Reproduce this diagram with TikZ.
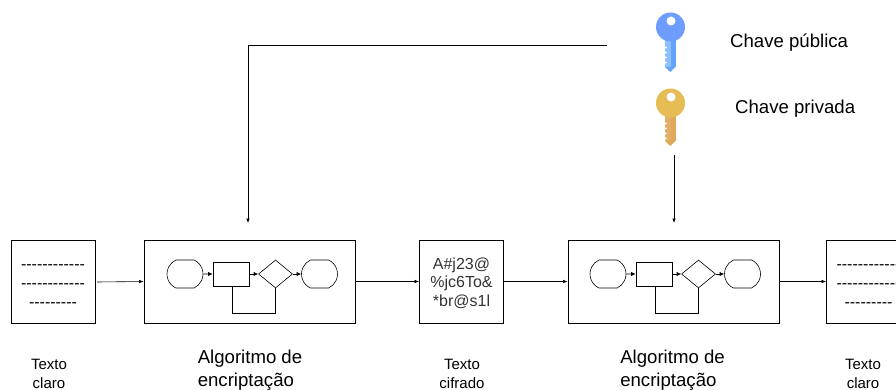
\documentclass[tikz,border=0pt]{standalone}
\usepackage{fontspec}
\setmainfont{Liberation Sans}
\newfontfamily\dashfont{Liberation Sans}
\usetikzlibrary{arrows.meta,shapes.geometric,shapes.misc}

\definecolor{keyblue}{HTML}{6E9DFF}
\definecolor{keyblueA}{HTML}{8CC0FF}
\definecolor{keyblueB}{HTML}{62A4FA}
\definecolor{keygold}{HTML}{E6BC55}
\definecolor{keygoldA}{HTML}{E2B066}
\definecolor{keygoldB}{HTML}{DFA85A}

\tikzset{
  box/.style={draw, line width=0.8pt, minimum height=83, inner sep=0},
  term/.style={draw, line width=0.6pt, rounded rectangle, rounded rectangle arc length=130, minimum width=36, minimum height=28, inner sep=0},
  proc/.style={draw, line width=0.6pt, minimum width=36, minimum height=24, inner sep=0},
  deci/.style={draw, line width=0.6pt, diamond, aspect=1.2, minimum width=34, minimum height=28, inner sep=0},
  flow/.style={line width=0.6pt, -{Latex[length=4.5,width=3.5]}},
  mini/.style={line width=0.6pt, -{Latex[length=4.5,width=4]}},
  dashes/.style={font=\dashfont\fontsize{16}{19}\selectfont, align=center, text depth=0},
  code/.style={font=\fontsize{16}{18.5}\selectfont, align=center, text=black!80},
  small/.style={font=\fontsize{15}{19}\selectfont, align=center},
  large/.style={font=\fontsize{18.6}{23}\selectfont, align=left},
  keyname/.style={font=\fontsize{18.6}{22}\selectfont, anchor=west, inner sep=0},
}

\newcommand{\chave}[6]{%
  \fill[#4] (#1-5.5,#2+10) rectangle (#1,#2+#6-5);
  \fill[#5] (#1,#2+10) rectangle (#1+5,#2+#6-5);
  \fill[#5] (#1-5.5,#2+#6-5) -- (#1-0.2,#2+#6) -- (#1+5,#2+#6-5) -- cycle;
  \foreach \t in {19,24,29,34}{\fill[white] (#1-6,#2+\t) -- (#1-3.5,#2+\t+1.5) -- (#1-6,#2+\t+3) -- cycle;}
  \fill[#3] (#1,#2) circle (14.5);
  \fill[white] (#1+0.5,#2-6) circle (4.5);
}

\begin{document}
\begin{tikzpicture}[x=1pt,y=-1pt]
\clip (0,0) rectangle (896,390);

%% caixas
\node[box, minimum width=84] (claroA) at (53,281.5) {};
\node[box, minimum width=211] (algoA) at (249.5,281.5) {};
\node[box, minimum width=84] (cifra) at (461.5,281.5) {};
\node[box, minimum width=211] (algoB) at (673.5,281.5) {};
\node[box, minimum width=84] (claroB) at (868.5,281.5) {};

%% conteudo das caixas
\node[dashes] (ddA) at (53,286) {------------\\------------\\---------};
\node[dashes] (ddB) at (868.5,286) {------------\\------------\\---------};
\node[code] (txC) at (461.5,283) {A\#j23@\\\%jc6To\&\\*br@s1l};

%% algoritmo
\foreach \n/\d in {A/0,B/423}{
  \node[term] (in\n) at (185+\d,274) {};
  \node[proc] (pr\n) at (231+\d,274) {};
  \node[deci] (de\n) at (275.5+\d,274) {};
  \node[term] (out\n) at (319.5+\d,274) {};
  \draw[mini] (in\n) -- (pr\n);
  \draw[mini] (pr\n) -- (de\n);
  \draw[mini] (de\n) -- (out\n);
  \draw[line width=0.6pt] (de\n.south) |- (232+\d,313) -- (232+\d,286);
}

%% chaves
\chave{670.5}{27}{keyblue}{keyblueA}{keyblueB}{45}
\chave{670.5}{103}{keygold}{keygoldA}{keygoldB}{43}

\coordinate (pubfim) at (607,45);
\coordinate (pubcanto) at (248,45);
\coordinate (pubseta) at (248,223);
\coordinate (privini) at (674,155);
\coordinate (privseta) at (674,223);
\coordinate (claroini) at (97,282);

%% ligacoes
\draw[flow] (pubfim) -- (pubcanto) -- (pubseta);
\draw[flow] (privini) -- (privseta);
\draw[flow] (claroini) -- (algoA.west);
\draw[flow] (algoA) -- (cifra);
\draw[flow] (cifra) -- (algoB);
\draw[flow] (algoB) -- (claroB);

%% textos
\node[small] (tcA) at (49,374) {Texto\\claro};
\node[large] (alA) at (250,370) {Algoritmo de\\encriptação};
\node[small] (tcC) at (462,374) {Texto\\cifrado};
\node[large] (alB) at (672.5,370) {Algoritmo de\\encriptação};
\node[small] (tcB) at (863,374) {Texto\\claro};
\node[keyname] (kpub) at (730,43) {Chave pública};
\node[keyname] (kpri) at (735,109) {Chave privada};

\end{tikzpicture}
\end{document}
